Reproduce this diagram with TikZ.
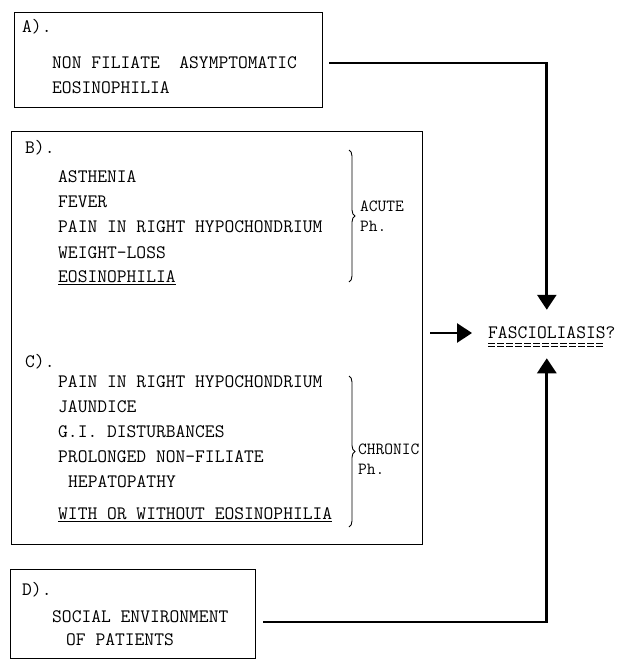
\documentclass[tikz,border=0pt]{standalone}
\usetikzlibrary{arrows.meta, positioning, decorations.pathreplacing}
\begin{document}
\begin{tikzpicture}[
  x=1pt, y=-1pt,
  panel/.style={rectangle, draw, line width=0.8pt, inner sep=0pt},
  item/.style={anchor=west, inner sep=0pt,
               font=\fontsize{19}{23}\selectfont\ttfamily},
  phase/.style={anchor=west, inner sep=0pt, align=left,
                font=\fontsize{17}{20}\selectfont\ttfamily},
  link/.style={line width=2.8pt, -{Triangle[length=15pt,width=19pt]}},
  brace/.style={decorate, decoration={brace, amplitude=6pt},
                line width=0.9pt},
  dunder/.style={line width=0.7pt, dash pattern=on 7pt off 2pt}
]
\useasboundingbox (0,0) rectangle (621,661);

% ----- panels -----
\node[panel, minimum width=308pt, minimum height=95pt]  (boxA)  at (168,59.5) {};
\node[panel, minimum width=411pt, minimum height=413pt] (boxBC) at (216.5,337.5) {};
\node[panel, minimum width=245pt, minimum height=89pt]  (boxD)  at (132.5,613.5) {};

% ----- A -----
\node[item] (labA) at (22,27) {A).};
\node[item] (a1) at (52,63) {NON FILIATE\ \ ASYMPTOMATIC};
\node[item] (a2) at (52,88) {EOSINOPHILIA};

% ----- B: acute phase -----
\node[item] (labB) at (25,148) {B).};
\node[item] (b1) at (58,177) {ASTHENIA};
\node[item] (b2) at (58,202) {FEVER};
\node[item] (b3) at (58,227) {PAIN IN RIGHT HYPOCHONDRIUM};
\node[item] (b4) at (58,253) {WEIGHT-LOSS};
\node[item] (b5) at (58,278) {\underline{EOSINOPHILIA}};
\coordinate (acuteTop) at (349,150);
\coordinate (acuteBot) at (349,282);
\draw[brace] (acuteTop) -- (acuteBot);
\node[phase] (acute) at (360,216) {ACUTE\\Ph.};

% ----- C: chronic phase -----
\node[item] (labC) at (25,362) {C).};
\node[item] (c1) at (58,382) {PAIN IN RIGHT HYPOCHONDRIUM};
\node[item] (c2) at (58,407) {JAUNDICE};
\node[item] (c3) at (58,432) {G.I. DISTURBANCES};
\node[item] (c4) at (58,457) {PROLONGED NON-FILIATE};
\node[item] (c5) at (68,482) {HEPATOPATHY};
\node[item] (c6) at (58,515) {\underline{WITH OR WITHOUT EOSINOPHILIA}};
\coordinate (chronTop) at (349,376);
\coordinate (chronBot) at (349,527);
\draw[brace] (chronTop) -- (chronBot);
\node[phase] (chron) at (358,459) {CHRONIC\\Ph.};

% ----- D -----
\node[item] (labD) at (22,590) {D).};
\node[item] (d1) at (52,617) {SOCIAL ENVIRONMENT};
\node[item] (d2) at (66,640) {OF PATIENTS};

% ----- result -----
\node[item] (fasc) at (488,333) {FASCIOLIASIS?};
\draw[dunder] ([yshift=-4pt]fasc.south west) -- ([xshift=-12pt,yshift=-4pt]fasc.south east);
\draw[dunder] ([yshift=-7pt]fasc.south west) -- ([xshift=-12pt,yshift=-7pt]fasc.south east);

% ----- arrows -----
\coordinate (bcOut) at (boxBC.east |- fasc.west);
\draw[link] ([xshift=7pt,yshift=-3.5pt]boxA.east) -| ([xshift=-5pt,yshift=17pt]fasc.north);
\draw[link] ([xshift=8pt]bcOut) -- ([xshift=-16pt]fasc.west);
\draw[link] ([xshift=8pt,yshift=-8.5pt]boxD.east) -| ([xshift=-5pt,yshift=-19pt]fasc.south);

\end{tikzpicture}
\end{document}
